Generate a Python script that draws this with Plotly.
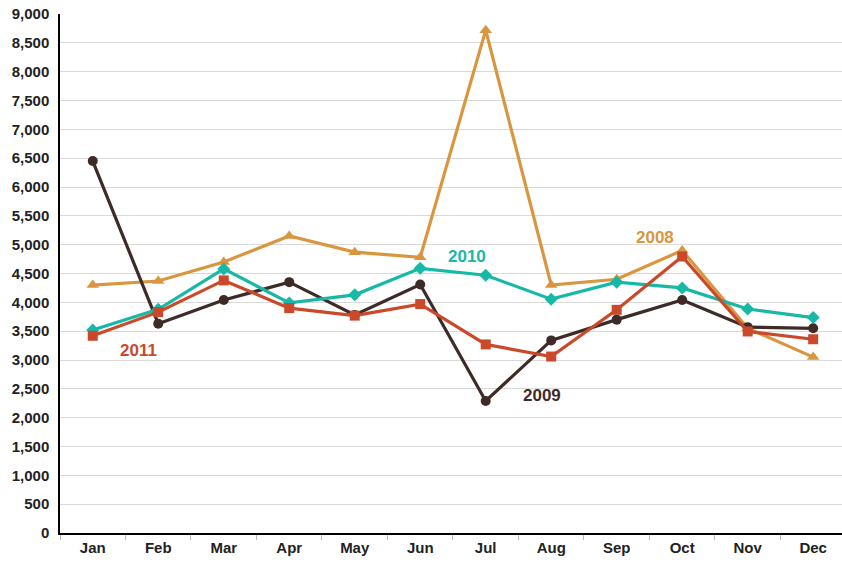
import plotly.graph_objects as go

months = ["Jan", "Feb", "Mar", "Apr", "May", "Jun", "Jul", "Aug", "Sep", "Oct", "Nov", "Dec"]
y2008 = [4300, 4370, 4700, 5150, 4870, 4780, 8720, 4300, 4400, 4900, 3550, 3050]
y2009 = [6450, 3630, 4040, 4350, 3780, 4310, 2290, 3340, 3700, 4040, 3570, 3550]
y2010 = [3520, 3880, 4580, 3990, 4130, 4590, 4470, 4055, 4350, 4250, 3885, 3735]
y2011 = [3420, 3830, 4380, 3900, 3770, 3970, 3270, 3060, 3870, 4795, 3495, 3360]

series = [
    ("2008", y2008, "#D9963F", "triangle-up", 11),
    ("2009", y2009, "#3E2B27", "circle", 10),
    ("2010", y2010, "#17B8A6", "diamond", 10),
    ("2011", y2011, "#C9492A", "square", 10),
]

fig = go.Figure()
for name, ys, color, sym, size in series:
    fig.add_trace(go.Scatter(
        x=months, y=ys, name=name, mode="lines+markers",
        line=dict(color=color, width=3.2),
        marker=dict(symbol=sym, size=size, color=color),
    ))

labels = [("2011", 0.70, 3170, "#C9492A"),
          ("2010", 5.71, 4790, "#17B8A6"),
          ("2009", 6.86, 2390, "#3E2B27"),
          ("2008", 8.58, 5130, "#D9963F")]
for text, xi, yv, color in labels:
    fig.add_annotation(x=xi, y=yv, text=text, showarrow=False,
                       font=dict(family="Liberation Sans", size=17, color=color, weight="bold"),
                       xref="x", yref="y")

tick_font = dict(family="Liberation Sans", size=15, color="#222222", weight="bold")

fig.update_layout(
    width=842, height=563,
    margin=dict(l=60, r=0, t=14, b=30, autoexpand=False),
    plot_bgcolor="white", paper_bgcolor="white",
    showlegend=False,
    font=dict(family="Liberation Sans", size=15, color="#222222"),
)
fig.update_xaxes(
    type="category", range=[-0.5, 11.44], automargin=False,
    showline=True, linecolor="black", linewidth=1.5,
    ticks="outside", tickson="boundaries", ticklen=5, tickcolor="#bbbbbb",
    tickfont=tick_font, showgrid=False,
)
fig.update_yaxes(
    range=[0, 9000], dtick=500, tickformat=",", automargin=False,
    showline=True, linecolor="black", linewidth=1.5,
    gridcolor="#d9d9d9", gridwidth=1, zeroline=False,
    tickfont=tick_font, ticks="", ticklabelstandoff=6,
)

fig.write_html("out.html", config={"displayModeBar": False},
               post_script="document.body.style.margin='0';document.body.style.overflow='hidden';")
